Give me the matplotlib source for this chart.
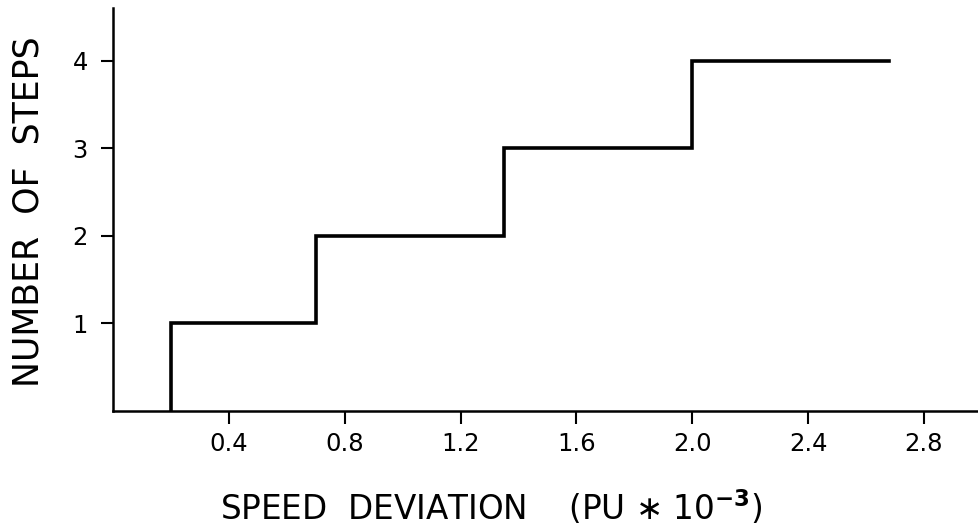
import matplotlib
matplotlib.use("Agg")
import matplotlib.pyplot as plt

# Data
step_x = [0.2, 0.2, 0.7, 1.35, 2.0, 2.68]
step_y = [0, 1, 2, 3, 4, 4]
x_ticks = [0.4, 0.8, 1.2, 1.6, 2.0, 2.4, 2.8]
x_tick_labels = ["0.4", "0.8", "1.2", "1.6", "2.0", "2.4", "2.8"]
y_ticks = [1, 2, 3, 4]
y_tick_labels = ["1", "2", "3", "4"]

plt.rcParams['font.family'] = ['DejaVu Sans']

fig = plt.figure(figsize=(9.79, 5.29), dpi=100)
W, H = 979, 529
ax_left, ax_bottom_px, ax_top_px = 113, 411, 8
ax = fig.add_axes([ax_left / W, (H - ax_bottom_px) / H, (W - ax_left) / W,
                   (ax_bottom_px - ax_top_px) / H])

ax.step(step_x, step_y, where='post', color='black', linewidth=2.6, solid_joinstyle='miter')

ax.set_xlim(0, 2.99)
ax.set_ylim(0, 4.6)

ax.set_xticks(x_ticks)
ax.set_xticklabels(x_tick_labels)
ax.set_yticks(y_ticks)
ax.set_yticklabels(y_tick_labels)

for s in ['top', 'right']:
    ax.spines[s].set_visible(False)
for s in ['left', 'bottom']:
    ax.spines[s].set_linewidth(1.8)
    ax.spines[s].set_color('black')

ax.tick_params(axis='both', direction='out', length=9, width=1.5, labelsize=17.5, colors='black')
ax.tick_params(axis='x', pad=6)
ax.tick_params(axis='y', pad=9)

ax.set_xlabel(r"SPEED  DEVIATION    (PU $\ast$ 10$^{\mathbf{-3}}$)", fontsize=23.5)
ax.set_ylabel("NUMBER  OF  STEPS", fontsize=25)

aw = W - ax_left
ah = ax_bottom_px - ax_top_px
ax.xaxis.set_label_coords((491 - ax_left) / aw, (ax_bottom_px - 488) / ah)
ax.yaxis.set_label_coords((46 - ax_left) / aw, (ax_bottom_px - 212) / ah)

fig.savefig("out.png", dpi=100)
